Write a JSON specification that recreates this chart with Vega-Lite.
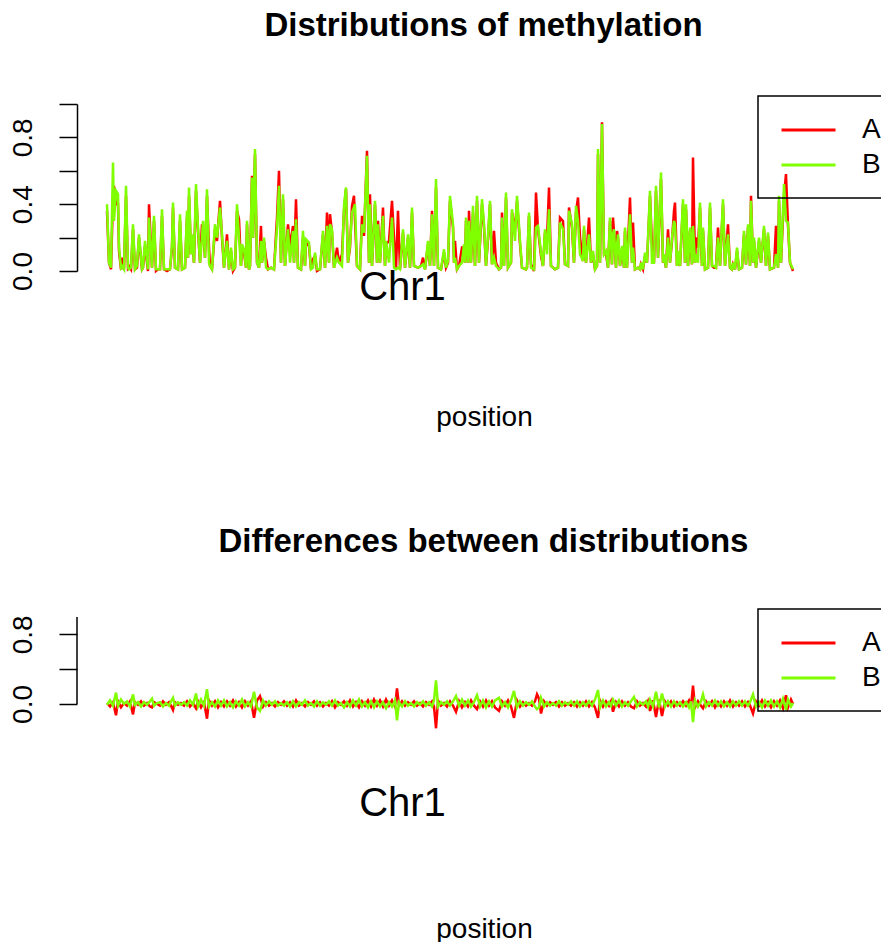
{
"$schema": "https://vega.github.io/schema/vega-lite/v6.json",
"background": "white",
"padding": {"left": 8, "top": 10, "right": 0, "bottom": 0},
"spacing": 95,
"config": {"font": "Liberation Sans", "view": {"stroke": null}, "title": {"color": "black"},
 "legend": {"strokeColor": "black", "strokeWidth": 1.5, "padding": 19, "symbolOffset": 16.5, "symbolType": "M-2,0H2", "symbolSize": 729, "symbolStrokeWidth": 3, "labelFontSize": 28, "labelOffset": 38.5, "labelColor": "black", "rowPadding": 6}},
"resolve": {"legend": {"color": "independent"}, "scale": {"color": "independent"}},
"datasets": {
"top": [
{"p":0,"A":0.36,"B":0.40},{"p":2,"A":0.05,"B":0.05},{"p":4,"A":0.01,"B":0.02},{"p":6,"A":0.45,"B":0.65},{"p":7,"A":0.51,"B":0.30},{"p":9,"A":0.40,"B":0.48},{"p":11,"A":0.40,"B":0.46},{"p":12,"A":0.12,"B":0.14},{"p":14,"A":0.01,"B":0.02},{"p":15,"A":0.08,"B":0.03},{"p":17,"A":0.01,"B":0.01},{"p":19,"A":0.45,"B":0.51},{"p":21,"A":0.02,"B":0.02},{"p":22,"A":0.03,"B":0.01},{"p":24,"A":0.01,"B":0.02},{"p":26,"A":0.25,"B":0.28},{"p":28,"A":0.01,"B":0.01},{"p":30,"A":0.02,"B":0.03},{"p":32,"A":0.20,"B":0.22},{"p":35,"A":0.01,"B":0.01},{"p":36,"A":0.02,"B":0.02},{"p":38,"A":0.15,"B":0.18},{"p":41,"A":0.00,"B":0.01},{"p":42,"A":0.40,"B":0.32},{"p":45,"A":0.02,"B":0.02},{"p":47,"A":0.30,"B":0.33},{"p":49,"A":0.00,"B":0.01},{"p":51,"A":0.01,"B":0.01},{"p":53,"A":0.01,"B":0.01},{"p":55,"A":0.33,"B":0.37},{"p":57,"A":0.01,"B":0.01},{"p":60,"A":0.00,"B":0.01},{"p":63,"A":0.01,"B":0.01},{"p":65,"A":0.14,"B":0.16},{"p":66,"A":0.38,"B":0.41},{"p":68,"A":0.02,"B":0.02},{"p":71,"A":0.01,"B":0.01},{"p":73,"A":0.30,"B":0.34},{"p":75,"A":0.01,"B":0.01},{"p":78,"A":0.02,"B":0.02},{"p":80,"A":0.32,"B":0.36},{"p":81,"A":0.08,"B":0.08},{"p":82,"A":0.45,"B":0.50},{"p":84,"A":0.10,"B":0.10},{"p":85,"A":0.20,"B":0.22},{"p":87,"A":0.05,"B":0.05},{"p":89,"A":0.48,"B":0.52},{"p":91,"A":0.24,"B":0.26},{"p":93,"A":0.05,"B":0.05},{"p":95,"A":0.28,"B":0.20},{"p":96,"A":0.25,"B":0.30},{"p":98,"A":0.08,"B":0.08},{"p":100,"A":0.45,"B":0.49},{"p":102,"A":0.14,"B":0.05},{"p":103,"A":0.03,"B":0.03},{"p":105,"A":0.01,"B":0.01},{"p":108,"A":0.25,"B":0.28},{"p":110,"A":0.18,"B":0.20},{"p":113,"A":0.42,"B":0.38},{"p":115,"A":0.20,"B":0.22},{"p":117,"A":0.02,"B":0.02},{"p":120,"A":0.22,"B":0.18},{"p":122,"A":0.01,"B":0.01},{"p":124,"A":0.12,"B":0.14},{"p":126,"A":0.00,"B":0.01},{"p":128,"A":0.02,"B":0.02},{"p":130,"A":0.36,"B":0.40},{"p":132,"A":0.31,"B":0.20},{"p":134,"A":0.03,"B":0.03},{"p":135,"A":0.14,"B":0.16},{"p":137,"A":0.11,"B":0.13},{"p":139,"A":0.02,"B":0.02},{"p":140,"A":0.28,"B":0.30},{"p":142,"A":0.01,"B":0.01},{"p":143,"A":0.03,"B":0.03},{"p":145,"A":0.57,"B":0.56},{"p":146,"A":0.20,"B":0.20},{"p":148,"A":0.70,"B":0.73},{"p":150,"A":0.05,"B":0.05},{"p":152,"A":0.02,"B":0.02},{"p":154,"A":0.27,"B":0.18},{"p":155,"A":0.05,"B":0.05},{"p":157,"A":0.18,"B":0.20},{"p":159,"A":0.08,"B":0.02},{"p":161,"A":0.01,"B":0.01},{"p":164,"A":0.02,"B":0.02},{"p":167,"A":0.01,"B":0.01},{"p":170,"A":0.32,"B":0.26},{"p":172,"A":0.60,"B":0.51},{"p":174,"A":0.05,"B":0.05},{"p":176,"A":0.43,"B":0.46},{"p":178,"A":0.03,"B":0.03},{"p":181,"A":0.28,"B":0.25},{"p":183,"A":0.15,"B":0.05},{"p":186,"A":0.27,"B":0.24},{"p":187,"A":0.05,"B":0.05},{"p":189,"A":0.43,"B":0.31},{"p":191,"A":0.02,"B":0.02},{"p":194,"A":0.01,"B":0.01},{"p":196,"A":0.20,"B":0.24},{"p":198,"A":0.03,"B":0.03},{"p":199,"A":0.17,"B":0.19},{"p":202,"A":0.15,"B":0.17},{"p":204,"A":0.01,"B":0.01},{"p":206,"A":0.07,"B":0.02},{"p":208,"A":0.09,"B":0.11},{"p":210,"A":0.00,"B":0.01},{"p":213,"A":0.01,"B":0.01},{"p":216,"A":0.22,"B":0.24},{"p":218,"A":0.02,"B":0.02},{"p":220,"A":0.35,"B":0.27},{"p":222,"A":0.05,"B":0.05},{"p":223,"A":0.34,"B":0.28},{"p":225,"A":0.23,"B":0.25},{"p":227,"A":0.02,"B":0.02},{"p":230,"A":0.14,"B":0.08},{"p":232,"A":0.05,"B":0.05},{"p":235,"A":0.10,"B":0.03},{"p":237,"A":0.36,"B":0.39},{"p":239,"A":0.49,"B":0.50},{"p":241,"A":0.05,"B":0.05},{"p":243,"A":0.14,"B":0.16},{"p":245,"A":0.39,"B":0.35},{"p":247,"A":0.45,"B":0.38},{"p":248,"A":0.30,"B":0.40},{"p":250,"A":0.03,"B":0.03},{"p":253,"A":0.01,"B":0.01},{"p":255,"A":0.33,"B":0.28},{"p":257,"A":0.21,"B":0.23},{"p":260,"A":0.72,"B":0.69},{"p":262,"A":0.05,"B":0.05},{"p":263,"A":0.46,"B":0.40},{"p":265,"A":0.03,"B":0.03},{"p":268,"A":0.40,"B":0.42},{"p":270,"A":0.05,"B":0.05},{"p":271,"A":0.30,"B":0.28},{"p":273,"A":0.05,"B":0.05},{"p":276,"A":0.38,"B":0.33},{"p":278,"A":0.03,"B":0.03},{"p":279,"A":0.16,"B":0.18},{"p":282,"A":0.18,"B":0.05},{"p":285,"A":0.42,"B":0.32},{"p":287,"A":0.20,"B":0.02},{"p":289,"A":0.01,"B":0.01},{"p":291,"A":0.36,"B":0.02},{"p":293,"A":0.01,"B":0.01},{"p":296,"A":0.23,"B":0.25},{"p":298,"A":0.02,"B":0.02},{"p":301,"A":0.20,"B":0.22},{"p":303,"A":0.02,"B":0.02},{"p":305,"A":0.35,"B":0.38},{"p":307,"A":0.03,"B":0.03},{"p":311,"A":0.02,"B":0.02},{"p":314,"A":0.03,"B":0.03},{"p":316,"A":0.08,"B":0.04},{"p":318,"A":0.01,"B":0.01},{"p":321,"A":0.16,"B":0.18},{"p":323,"A":0.03,"B":0.03},{"p":325,"A":0.36,"B":0.34},{"p":327,"A":0.03,"B":0.03},{"p":329,"A":0.50,"B":0.55},{"p":331,"A":0.02,"B":0.02},{"p":334,"A":0.01,"B":0.01},{"p":337,"A":0.11,"B":0.13},{"p":339,"A":0.02,"B":0.02},{"p":341,"A":0.05,"B":0.06},{"p":343,"A":0.42,"B":0.45},{"p":346,"A":0.26,"B":0.28},{"p":347,"A":0.05,"B":0.05},{"p":348,"A":0.18,"B":0.08},{"p":350,"A":0.01,"B":0.01},{"p":352,"A":0.03,"B":0.03},{"p":355,"A":0.14,"B":0.05},{"p":357,"A":0.14,"B":0.16},{"p":358,"A":0.05,"B":0.05},{"p":359,"A":0.30,"B":0.32},{"p":361,"A":0.05,"B":0.05},{"p":362,"A":0.36,"B":0.30},{"p":364,"A":0.05,"B":0.05},{"p":366,"A":0.35,"B":0.39},{"p":368,"A":0.03,"B":0.03},{"p":370,"A":0.42,"B":0.45},{"p":372,"A":0.05,"B":0.05},{"p":375,"A":0.40,"B":0.43},{"p":377,"A":0.26,"B":0.28},{"p":379,"A":0.03,"B":0.03},{"p":381,"A":0.19,"B":0.21},{"p":383,"A":0.40,"B":0.42},{"p":385,"A":0.04,"B":0.04},{"p":387,"A":0.24,"B":0.08},{"p":389,"A":0.05,"B":0.03},{"p":392,"A":0.01,"B":0.01},{"p":394,"A":0.02,"B":0.02},{"p":395,"A":0.35,"B":0.32},{"p":397,"A":0.03,"B":0.03},{"p":399,"A":0.44,"B":0.47},{"p":401,"A":0.02,"B":0.02},{"p":404,"A":0.05,"B":0.05},{"p":405,"A":0.35,"B":0.37},{"p":408,"A":0.25,"B":0.18},{"p":410,"A":0.42,"B":0.45},{"p":413,"A":0.16,"B":0.18},{"p":415,"A":0.02,"B":0.02},{"p":419,"A":0.01,"B":0.01},{"p":420,"A":0.02,"B":0.02},{"p":422,"A":0.33,"B":0.35},{"p":424,"A":0.04,"B":0.02},{"p":427,"A":0.00,"B":0.01},{"p":429,"A":0.47,"B":0.26},{"p":431,"A":0.25,"B":0.27},{"p":434,"A":0.09,"B":0.11},{"p":436,"A":0.03,"B":0.03},{"p":438,"A":0.23,"B":0.25},{"p":440,"A":0.19,"B":0.10},{"p":442,"A":0.50,"B":0.37},{"p":444,"A":0.03,"B":0.03},{"p":448,"A":0.01,"B":0.01},{"p":451,"A":0.02,"B":0.02},{"p":453,"A":0.32,"B":0.29},{"p":456,"A":0.30,"B":0.25},{"p":458,"A":0.04,"B":0.04},{"p":461,"A":0.03,"B":0.03},{"p":462,"A":0.38,"B":0.36},{"p":465,"A":0.26,"B":0.28},{"p":467,"A":0.05,"B":0.05},{"p":469,"A":0.35,"B":0.39},{"p":471,"A":0.44,"B":0.30},{"p":473,"A":0.20,"B":0.10},{"p":476,"A":0.06,"B":0.06},{"p":477,"A":0.25,"B":0.27},{"p":479,"A":0.05,"B":0.05},{"p":482,"A":0.32,"B":0.22},{"p":484,"A":0.05,"B":0.05},{"p":486,"A":0.10,"B":0.12},{"p":488,"A":0.01,"B":0.01},{"p":490,"A":0.03,"B":0.03},{"p":491,"A":0.70,"B":0.73},{"p":493,"A":0.05,"B":0.05},{"p":495,"A":0.89,"B":0.88},{"p":497,"A":0.10,"B":0.10},{"p":499,"A":0.10,"B":0.12},{"p":501,"A":0.02,"B":0.02},{"p":503,"A":0.30,"B":0.32},{"p":505,"A":0.04,"B":0.04},{"p":506,"A":0.32,"B":0.22},{"p":507,"A":0.23,"B":0.25},{"p":509,"A":0.02,"B":0.02},{"p":510,"A":0.24,"B":0.15},{"p":511,"A":0.20,"B":0.22},{"p":513,"A":0.03,"B":0.03},{"p":515,"A":0.13,"B":0.15},{"p":517,"A":0.02,"B":0.02},{"p":518,"A":0.24,"B":0.26},{"p":520,"A":0.02,"B":0.02},{"p":523,"A":0.44,"B":0.34},{"p":525,"A":0.05,"B":0.05},{"p":526,"A":0.29,"B":0.14},{"p":528,"A":0.01,"B":0.01},{"p":531,"A":0.02,"B":0.02},{"p":533,"A":0.01,"B":0.01},{"p":534,"A":0.04,"B":0.05},{"p":536,"A":0.01,"B":0.01},{"p":538,"A":0.09,"B":0.11},{"p":540,"A":0.05,"B":0.05},{"p":543,"A":0.45,"B":0.48},{"p":545,"A":0.15,"B":0.05},{"p":547,"A":0.05,"B":0.05},{"p":549,"A":0.48,"B":0.51},{"p":551,"A":0.08,"B":0.08},{"p":554,"A":0.55,"B":0.59},{"p":556,"A":0.05,"B":0.05},{"p":557,"A":0.08,"B":0.10},{"p":559,"A":0.02,"B":0.02},{"p":561,"A":0.25,"B":0.20},{"p":563,"A":0.05,"B":0.05},{"p":565,"A":0.18,"B":0.20},{"p":567,"A":0.36,"B":0.30},{"p":568,"A":0.41,"B":0.28},{"p":570,"A":0.03,"B":0.03},{"p":571,"A":0.10,"B":0.12},{"p":573,"A":0.03,"B":0.03},{"p":576,"A":0.40,"B":0.43},{"p":578,"A":0.05,"B":0.05},{"p":579,"A":0.37,"B":0.40},{"p":581,"A":0.03,"B":0.03},{"p":583,"A":0.24,"B":0.26},{"p":585,"A":0.04,"B":0.04},{"p":586,"A":0.68,"B":0.27},{"p":588,"A":0.05,"B":0.05},{"p":589,"A":0.20,"B":0.10},{"p":591,"A":0.14,"B":0.05},{"p":593,"A":0.38,"B":0.41},{"p":595,"A":0.03,"B":0.03},{"p":596,"A":0.24,"B":0.26},{"p":598,"A":0.01,"B":0.01},{"p":601,"A":0.02,"B":0.02},{"p":603,"A":0.38,"B":0.41},{"p":605,"A":0.03,"B":0.03},{"p":607,"A":0.02,"B":0.03},{"p":609,"A":0.02,"B":0.02},{"p":611,"A":0.26,"B":0.20},{"p":613,"A":0.03,"B":0.03},{"p":616,"A":0.40,"B":0.43},{"p":618,"A":0.03,"B":0.03},{"p":621,"A":0.28,"B":0.22},{"p":623,"A":0.02,"B":0.02},{"p":625,"A":0.01,"B":0.01},{"p":626,"A":0.04,"B":0.05},{"p":628,"A":0.01,"B":0.01},{"p":630,"A":0.12,"B":0.14},{"p":632,"A":0.01,"B":0.01},{"p":635,"A":0.02,"B":0.02},{"p":637,"A":0.22,"B":0.24},{"p":639,"A":0.04,"B":0.04},{"p":641,"A":0.26,"B":0.28},{"p":643,"A":0.03,"B":0.03},{"p":644,"A":0.45,"B":0.42},{"p":646,"A":0.05,"B":0.05},{"p":647,"A":0.18,"B":0.20},{"p":649,"A":0.02,"B":0.02},{"p":652,"A":0.18,"B":0.20},{"p":654,"A":0.05,"B":0.05},{"p":657,"A":0.25,"B":0.27},{"p":659,"A":0.03,"B":0.03},{"p":661,"A":0.21,"B":0.23},{"p":663,"A":0.01,"B":0.01},{"p":667,"A":0.02,"B":0.02},{"p":669,"A":0.27,"B":0.10},{"p":671,"A":0.02,"B":0.02},{"p":672,"A":0.42,"B":0.45},{"p":674,"A":0.05,"B":0.05},{"p":677,"A":0.45,"B":0.52},{"p":679,"A":0.58,"B":0.30},{"p":681,"A":0.27,"B":0.29},{"p":683,"A":0.05,"B":0.05},{"p":686,"A":0.00,"B":0.01}
],
"diff": [
{"p":0,"A":0.01,"B":-0.01},{"p":3,"A":-0.03,"B":0.04},{"p":6,"A":0.02,"B":-0.02},{"p":9,"A":-0.13,"B":0.13},{"p":11,"A":0.03,"B":-0.02},{"p":14,"A":-0.04,"B":0.05},{"p":17,"A":0.01,"B":0.00},{"p":20,"A":-0.02,"B":0.03},{"p":23,"A":0.03,"B":-0.03},{"p":26,"A":-0.12,"B":0.11},{"p":28,"A":0.02,"B":-0.01},{"p":31,"A":-0.01,"B":0.02},{"p":34,"A":0.03,"B":-0.03},{"p":37,"A":-0.02,"B":0.02},{"p":40,"A":0.01,"B":-0.01},{"p":43,"A":-0.03,"B":0.03},{"p":45,"A":-0.04,"B":0.06},{"p":47,"A":0.02,"B":-0.02},{"p":50,"A":0.00,"B":0.01},{"p":53,"A":-0.02,"B":0.02},{"p":56,"A":0.03,"B":-0.03},{"p":59,"A":-0.01,"B":0.01},{"p":62,"A":0.02,"B":-0.02},{"p":64,"A":-0.02,"B":0.03},{"p":66,"A":-0.07,"B":0.07},{"p":68,"A":0.02,"B":-0.02},{"p":71,"A":-0.01,"B":0.02},{"p":74,"A":0.01,"B":-0.01},{"p":77,"A":-0.02,"B":0.02},{"p":80,"A":0.03,"B":-0.02},{"p":83,"A":-0.03,"B":0.04},{"p":86,"A":0.01,"B":-0.01},{"p":89,"A":-0.05,"B":0.12},{"p":91,"A":0.03,"B":-0.03},{"p":94,"A":-0.04,"B":0.05},{"p":97,"A":0.02,"B":-0.02},{"p":100,"A":-0.17,"B":0.17},{"p":102,"A":0.04,"B":-0.03},{"p":105,"A":-0.02,"B":0.02},{"p":108,"A":0.03,"B":-0.03},{"p":111,"A":-0.04,"B":0.04},{"p":114,"A":0.02,"B":-0.02},{"p":117,"A":-0.03,"B":0.04},{"p":120,"A":0.03,"B":-0.03},{"p":123,"A":-0.02,"B":0.02},{"p":126,"A":0.04,"B":-0.04},{"p":129,"A":-0.03,"B":0.03},{"p":132,"A":0.02,"B":-0.02},{"p":135,"A":-0.04,"B":0.05},{"p":138,"A":0.03,"B":-0.03},{"p":141,"A":-0.02,"B":0.02},{"p":144,"A":0.03,"B":-0.03},{"p":147,"A":-0.16,"B":0.14},{"p":150,"A":0.04,"B":-0.04},{"p":153,"A":0.09,"B":-0.08},{"p":156,"A":-0.03,"B":0.04},{"p":159,"A":0.02,"B":-0.02},{"p":162,"A":-0.02,"B":0.03},{"p":165,"A":0.01,"B":-0.01},{"p":168,"A":-0.03,"B":0.03},{"p":171,"A":0.02,"B":-0.02},{"p":174,"A":-0.01,"B":0.01},{"p":177,"A":0.03,"B":-0.02},{"p":180,"A":-0.02,"B":0.02},{"p":183,"A":0.02,"B":-0.03},{"p":186,"A":-0.03,"B":0.03},{"p":189,"A":0.04,"B":-0.03},{"p":192,"A":-0.02,"B":0.02},{"p":195,"A":0.01,"B":-0.01},{"p":198,"A":-0.03,"B":0.04},{"p":201,"A":0.02,"B":-0.02},{"p":204,"A":-0.01,"B":0.01},{"p":207,"A":0.03,"B":-0.03},{"p":210,"A":-0.02,"B":0.03},{"p":213,"A":0.02,"B":-0.02},{"p":216,"A":-0.03,"B":0.02},{"p":219,"A":0.01,"B":-0.01},{"p":222,"A":-0.02,"B":0.03},{"p":225,"A":0.03,"B":-0.02},{"p":228,"A":-0.04,"B":0.04},{"p":231,"A":0.02,"B":-0.02},{"p":234,"A":-0.01,"B":0.01},{"p":237,"A":0.03,"B":-0.04},{"p":240,"A":-0.02,"B":0.02},{"p":243,"A":0.04,"B":-0.03},{"p":246,"A":-0.03,"B":0.04},{"p":249,"A":0.02,"B":-0.02},{"p":252,"A":-0.04,"B":0.05},{"p":255,"A":0.03,"B":-0.03},{"p":258,"A":-0.02,"B":0.02},{"p":261,"A":0.04,"B":-0.04},{"p":264,"A":-0.03,"B":0.03},{"p":267,"A":0.05,"B":-0.04},{"p":270,"A":-0.02,"B":0.03},{"p":273,"A":0.04,"B":-0.03},{"p":276,"A":-0.03,"B":0.02},{"p":279,"A":0.05,"B":-0.05},{"p":282,"A":-0.02,"B":0.02},{"p":285,"A":0.04,"B":-0.03},{"p":288,"A":-0.03,"B":0.04},{"p":290,"A":0.18,"B":-0.19},{"p":292,"A":-0.02,"B":0.02},{"p":295,"A":0.03,"B":-0.03},{"p":298,"A":-0.02,"B":0.03},{"p":301,"A":0.02,"B":-0.02},{"p":304,"A":-0.01,"B":0.01},{"p":307,"A":0.03,"B":-0.03},{"p":310,"A":-0.02,"B":0.02},{"p":313,"A":0.01,"B":-0.01},{"p":316,"A":-0.03,"B":0.03},{"p":319,"A":0.02,"B":-0.02},{"p":322,"A":-0.01,"B":0.02},{"p":325,"A":0.03,"B":-0.03},{"p":327,"A":-0.03,"B":0.04},{"p":329,"A":-0.28,"B":0.27},{"p":331,"A":0.04,"B":-0.03},{"p":334,"A":-0.02,"B":0.02},{"p":337,"A":0.01,"B":-0.01},{"p":340,"A":-0.03,"B":0.03},{"p":343,"A":0.03,"B":-0.02},{"p":346,"A":-0.02,"B":0.03},{"p":349,"A":-0.09,"B":0.09},{"p":352,"A":0.03,"B":-0.02},{"p":355,"A":-0.04,"B":0.05},{"p":358,"A":0.02,"B":-0.02},{"p":361,"A":-0.03,"B":0.04},{"p":364,"A":0.04,"B":-0.03},{"p":367,"A":-0.02,"B":0.02},{"p":370,"A":-0.06,"B":0.10},{"p":373,"A":0.03,"B":-0.03},{"p":376,"A":-0.03,"B":0.04},{"p":379,"A":0.04,"B":-0.04},{"p":382,"A":-0.02,"B":0.03},{"p":385,"A":0.03,"B":-0.03},{"p":388,"A":-0.04,"B":0.04},{"p":392,"A":-0.08,"B":0.07},{"p":395,"A":0.03,"B":-0.03},{"p":398,"A":-0.02,"B":0.02},{"p":401,"A":0.04,"B":-0.04},{"p":404,"A":-0.03,"B":0.04},{"p":407,"A":-0.16,"B":0.15},{"p":410,"A":0.04,"B":-0.04},{"p":413,"A":-0.03,"B":0.03},{"p":416,"A":0.02,"B":-0.02},{"p":419,"A":-0.02,"B":0.02},{"p":422,"A":0.01,"B":-0.01},{"p":425,"A":-0.02,"B":0.03},{"p":428,"A":0.03,"B":-0.03},{"p":430,"A":0.11,"B":-0.06},{"p":432,"A":0.06,"B":-0.04},{"p":434,"A":-0.11,"B":0.07},{"p":437,"A":0.03,"B":-0.03},{"p":440,"A":-0.02,"B":0.02},{"p":443,"A":0.02,"B":-0.02},{"p":446,"A":-0.01,"B":0.01},{"p":449,"A":0.02,"B":-0.02},{"p":452,"A":-0.03,"B":0.03},{"p":455,"A":0.02,"B":-0.02},{"p":458,"A":-0.02,"B":0.02},{"p":461,"A":0.01,"B":-0.01},{"p":464,"A":-0.02,"B":0.03},{"p":467,"A":0.02,"B":-0.02},{"p":470,"A":-0.03,"B":0.03},{"p":473,"A":0.02,"B":-0.03},{"p":476,"A":-0.02,"B":0.02},{"p":479,"A":0.03,"B":-0.02},{"p":482,"A":-0.03,"B":0.03},{"p":485,"A":0.02,"B":-0.02},{"p":488,"A":-0.04,"B":0.05},{"p":491,"A":-0.16,"B":0.16},{"p":493,"A":0.04,"B":-0.04},{"p":496,"A":-0.03,"B":0.04},{"p":499,"A":0.03,"B":-0.03},{"p":502,"A":-0.02,"B":0.02},{"p":504,"A":0.03,"B":-0.02},{"p":506,"A":-0.09,"B":0.05},{"p":509,"A":0.02,"B":-0.02},{"p":512,"A":-0.03,"B":0.04},{"p":515,"A":0.03,"B":-0.03},{"p":518,"A":-0.02,"B":0.02},{"p":521,"A":0.02,"B":-0.02},{"p":524,"A":-0.03,"B":0.03},{"p":527,"A":-0.05,"B":0.08},{"p":530,"A":0.03,"B":-0.03},{"p":533,"A":-0.02,"B":0.02},{"p":536,"A":0.01,"B":-0.01},{"p":539,"A":-0.03,"B":0.03},{"p":541,"A":0.03,"B":-0.03},{"p":543,"A":-0.08,"B":0.05},{"p":546,"A":0.04,"B":-0.03},{"p":549,"A":-0.15,"B":0.14},{"p":552,"A":0.05,"B":-0.04},{"p":555,"A":-0.14,"B":0.12},{"p":558,"A":0.03,"B":-0.03},{"p":561,"A":-0.02,"B":0.03},{"p":564,"A":0.03,"B":-0.03},{"p":567,"A":-0.03,"B":0.03},{"p":570,"A":0.02,"B":-0.02},{"p":573,"A":-0.02,"B":0.02},{"p":576,"A":0.03,"B":-0.03},{"p":579,"A":-0.02,"B":0.02},{"p":582,"A":0.04,"B":-0.04},{"p":584,"A":-0.03,"B":0.03},{"p":586,"A":0.21,"B":-0.21},{"p":588,"A":-0.04,"B":0.04},{"p":591,"A":0.03,"B":-0.03},{"p":594,"A":-0.02,"B":0.03},{"p":596,"A":-0.05,"B":0.11},{"p":599,"A":0.03,"B":-0.03},{"p":602,"A":-0.02,"B":0.02},{"p":605,"A":0.03,"B":-0.02},{"p":608,"A":-0.04,"B":0.04},{"p":611,"A":0.02,"B":-0.02},{"p":614,"A":-0.03,"B":0.03},{"p":617,"A":0.03,"B":-0.03},{"p":620,"A":-0.02,"B":0.02},{"p":623,"A":0.04,"B":-0.03},{"p":626,"A":-0.03,"B":0.03},{"p":629,"A":0.02,"B":-0.02},{"p":632,"A":-0.02,"B":0.03},{"p":635,"A":0.03,"B":-0.02},{"p":638,"A":-0.03,"B":0.03},{"p":641,"A":0.02,"B":-0.02},{"p":643,"A":-0.02,"B":0.02},{"p":646,"A":-0.11,"B":0.11},{"p":649,"A":0.03,"B":-0.03},{"p":652,"A":-0.02,"B":0.02},{"p":655,"A":0.04,"B":-0.04},{"p":658,"A":-0.03,"B":0.04},{"p":661,"A":0.02,"B":-0.02},{"p":664,"A":-0.04,"B":0.04},{"p":667,"A":0.03,"B":-0.03},{"p":670,"A":-0.02,"B":0.03},{"p":673,"A":0.04,"B":-0.04},{"p":676,"A":-0.05,"B":0.06},{"p":679,"A":0.10,"B":-0.07},{"p":681,"A":-0.04,"B":0.05},{"p":684,"A":0.05,"B":-0.03},{"p":686,"A":0.00,"B":0.01}
]
},
"vconcat": [
{
"width": 805, "height": 167,
"title": {"text": "Distributions of methylation", "fontSize": 33, "fontWeight": "bold", "anchor": "middle", "dx": 4, "offset": 26, "baseline": "alphabetic", "color": "black"},
"data": {"name": "top"},
"transform": [{"fold": ["A", "B"], "as": ["series", "value"]}],
"mark": {"type": "line", "strokeWidth": 2.5},
"encoding": {
"x": {"field": "p", "type": "quantitative", "scale": {"domain": [-30, 775], "nice": false, "zero": false},
 "axis": {"values": [295], "labelExpr": "'Chr1'", "labelFontSize": 40, "labelPadding": -4, "labelBaseline": "top", "labelColor": "black", "labelFlush": false, "ticks": false, "tickSize": 0, "domain": false, "grid": false,
  "title": "position", "titleFontSize": 28, "titleFontWeight": "normal", "titleColor": "black", "titleX": 407, "titleY": 154, "titleAlign": "center", "titleBaseline": "alphabetic"}},
"y": {"field": "value", "type": "quantitative", "scale": {"domain": [0, 1], "nice": false},
 "axis": {"values": [0, 0.2, 0.4, 0.6, 0.8, 1], "labelExpr": "datum.value === 0 || datum.value === 0.4 || datum.value === 0.8 ? format(datum.value, '.1f') : ''", "labelAngle": 270, "labelAlign": "center", "labelBaseline": "alphabetic", "labelFontSize": 28, "labelPadding": 28, "labelColor": "black", "tickSize": 18, "tickColor": "black", "tickWidth": 1.5, "domainColor": "black", "domainWidth": 1.5, "grid": false, "title": null}},
"color": {"field": "series", "type": "nominal", "scale": {"domain": ["A", "B"], "range": ["#FF0000", "#7FFF00"]},
 "legend": {"orient": "none", "legendX": 681, "legendY": -8, "title": null}}
}
},
{
"width": 805, "height": 113,
"title": {"text": "Differences between distributions", "fontSize": 33, "fontWeight": "bold", "anchor": "middle", "dx": 4, "offset": 23, "baseline": "alphabetic", "color": "black"},
"layer": [
{
"data": {"name": "diff"},
"transform": [{"fold": ["A", "B"], "as": ["series", "value"]}],
"mark": {"type": "line", "strokeWidth": 2.5},
"encoding": {
"x": {"field": "p", "type": "quantitative", "scale": {"domain": [-30, 775], "nice": false, "zero": false},
 "axis": {"values": [295], "labelExpr": "'Chr1'", "labelFontSize": 40, "labelPadding": 53, "labelBaseline": "top", "labelColor": "black", "labelFlush": false, "ticks": false, "tickSize": 0, "domain": false, "grid": false,
  "title": "position", "titleFontSize": 28, "titleFontWeight": "normal", "titleColor": "black", "titleX": 407, "titleY": 207, "titleAlign": "center", "titleBaseline": "alphabetic"}},
"y": {"field": "value", "type": "quantitative", "scale": {"domain": [-0.3, 1], "nice": false, "zero": false},
 "axis": {"values": [0, 0.2, 0.4, 0.6, 0.8, 1], "labelExpr": "datum.value === 0 || datum.value === 0.8 ? format(datum.value, '.1f') : ''", "labelAngle": 270, "labelAlign": "center", "labelBaseline": "alphabetic", "labelFontSize": 28, "labelPadding": 28, "labelColor": "black", "tickSize": 18, "tickColor": "black", "tickWidth": 1.5, "domain": false, "grid": false, "title": null}},
"color": {"field": "series", "type": "nominal", "scale": {"domain": ["A", "B"], "range": ["#FF0000", "#7FFF00"]},
 "legend": {"orient": "none", "legendX": 681, "legendY": -8, "title": null}}
}
},
{
"data": {"values": [{}]},
"mark": {"type": "rule", "color": "black", "strokeWidth": 1.5},
"encoding": {"x": {"datum": -30}, "y": {"datum": 0}, "y2": {"datum": 1}}
}
]
}
]
}
